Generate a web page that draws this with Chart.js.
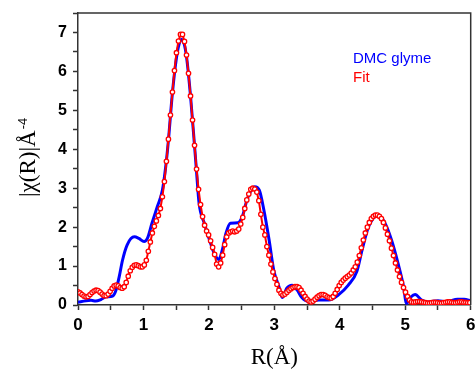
<!DOCTYPE html>
<html>
<head>
<meta charset="utf-8">
<script src="https://cdn.jsdelivr.net/npm/chart.js@4/dist/chart.umd.min.js"></script>
<style>
  html, body { margin: 0; padding: 0; background: #fff; }
  #wrap { width: 476px; height: 369px; }
</style>
</head>
<body>
<div id="wrap"><canvas id="exafs" width="476" height="369"></canvas></div>
<script>
// Dados
const seriesNames = ['DMC glyme', 'Fit'];

// curva azul (experimental), pares R / valor
const expR = [0, 0.12, 0.2, 0.27, 0.35, 0.43, 0.53, 0.58, 0.63, 0.68, 0.75, 0.86, 0.93, 1.01, 1.06, 1.13, 1.21, 1.29, 1.34,
  1.38, 1.44, 1.5, 1.545, 1.58, 1.62, 1.66, 1.72, 1.78, 1.81, 1.85, 1.93, 2.01, 2.08, 2.15, 2.21, 2.26, 2.33, 2.44, 2.51,
  2.59, 2.7, 2.77, 2.84, 2.92, 2.99, 3.07, 3.12, 3.19, 3.27, 3.35, 3.42, 3.52, 3.68, 3.83, 3.98, 4.13, 4.26, 4.34, 4.44,
  4.59, 4.69, 4.79, 4.89, 4.97, 5.02, 5.09, 5.15, 5.25, 5.35, 5.5, 5.63, 5.8, 5.9, 6.0];
const expV = [0.07, 0.11, 0.12, 0.10, 0.14, 0.21, 0.23, 0.38, 0.73, 1.15, 1.54, 1.75, 1.71, 1.63, 1.71, 2.10, 2.52, 2.95, 3.55,
  4.2, 5.4, 6.3, 6.7, 6.82, 6.72, 6.35, 5.35, 4.1, 3.45, 2.61, 2.10, 1.67, 1.33, 1.17, 1.45, 1.84, 2.10, 2.11, 2.27,
  2.74, 3.04, 2.95, 2.44, 1.67, 0.90, 0.47, 0.19, 0.43, 0.51, 0.38, 0.19, 0.09, 0.13, 0.13, 0.26, 0.51, 0.86, 1.41, 2.01,
  2.31, 2.10, 1.67, 1.07, 0.51, 0.04, 0.21, 0.27, 0.13, 0.08, 0.11, 0.08, 0.15, 0.15, 0.11];

// ajuste (pontos vermelhos), grade uniforme em R
const fitStep = 0.0307;
const fitV = [
  0.34, 0.31, 0.27, 0.23, 0.21, 0.22, 0.27, 0.32, 0.36, 0.38,
  0.37, 0.33, 0.28, 0.24, 0.24, 0.28, 0.35, 0.43, 0.49, 0.51,
  0.49, 0.45, 0.43, 0.47, 0.58, 0.74, 0.88, 0.97, 1.02, 1.03,
  1.01, 0.98, 0.98, 1.03, 1.15, 1.38, 1.62, 1.85, 2.02, 2.16,
  2.30, 2.48, 2.78, 3.17, 3.69, 4.26, 4.88, 5.47, 6.02, 6.48,
  6.78, 6.95, 6.95, 6.77, 6.42, 5.95, 5.37, 4.75, 4.10, 3.49,
  2.97, 2.58, 2.27, 2.05, 1.90, 1.80, 1.65, 1.48, 1.30, 1.05,
  0.98, 1.08, 1.28, 1.55, 1.75, 1.85, 1.88, 1.90, 1.88, 1.90,
  1.95, 2.08, 2.25, 2.48, 2.70, 2.85, 2.97, 3.00, 2.98, 2.90,
  2.68, 2.33, 2.00, 1.80, 1.50, 1.28, 1.05, 0.85, 0.68, 0.53,
  0.38, 0.30, 0.26, 0.28, 0.33, 0.38, 0.42, 0.45, 0.47, 0.47,
  0.45, 0.38, 0.30, 0.22, 0.15, 0.10, 0.08, 0.10, 0.15, 0.20,
  0.24, 0.27, 0.27, 0.25, 0.21, 0.19, 0.18, 0.22, 0.30, 0.40,
  0.50, 0.58, 0.64, 0.69, 0.73, 0.77, 0.82, 0.90, 0.98, 1.10,
  1.27, 1.47, 1.67, 1.85, 2.00, 2.12, 2.22, 2.28, 2.31, 2.31,
  2.28, 2.22, 2.12, 1.98, 1.82, 1.65, 1.46, 1.27, 1.08, 0.90,
  0.73, 0.58, 0.45, 0.33, 0.22, 0.13, 0.08, 0.07, 0.08, 0.09,
  0.09, 0.08, 0.07, 0.06, 0.05, 0.05, 0.06, 0.07, 0.07, 0.06,
  0.05, 0.05, 0.06, 0.07, 0.08, 0.08, 0.07, 0.06, 0.06, 0.07,
  0.08, 0.08, 0.07, 0.07, 0.06, 0.06
];

const xTicks = [0, 1, 2, 3, 4, 5, 6];
const yTicks = [0, 1, 2, 3, 4, 5, 6, 7];

const axisColor = '#333';

// moldura superior/direita, título do eixo y e legenda em texto
const extras = {
  id: 'extras',
  afterDraw(chart) {
    const { ctx, chartArea: a } = chart;
    ctx.save();
    ctx.strokeStyle = axisColor;
    ctx.lineWidth = 1.5;
    ctx.beginPath();
    ctx.moveTo(a.left, a.top);
    ctx.lineTo(a.right, a.top);
    ctx.lineTo(a.right, a.bottom);
    ctx.stroke();

    // título do eixo y com expoente
    ctx.translate(35, 197);
    ctx.rotate(-Math.PI / 2);
    ctx.fillStyle = '#000';
    ctx.textBaseline = 'alphabetic';
    ctx.textAlign = 'left';
    ctx.font = '23px "Liberation Serif", "Times New Roman", serif';
    const main = '|\u03C7(R)|\u00C5';
    ctx.fillText(main, 0, 0);
    const w = ctx.measureText(main).width;
    ctx.font = '13px "Liberation Sans", Arial, sans-serif';
    ctx.fillText('-4', w + 1, -8);
    ctx.restore();

    // legenda só com texto colorido
    ctx.save();
    ctx.font = '15px "Liberation Sans", Arial, sans-serif';
    ctx.textBaseline = 'alphabetic';
    ctx.fillStyle = chart.data.datasets[1].borderColor;
    ctx.fillText(chart.data.datasets[1].label, 353, 63);
    ctx.fillStyle = chart.data.datasets[0].borderColor;
    ctx.fillText(chart.data.datasets[0].label, 353, 82);
    ctx.restore();
  }
};

const ctx = document.getElementById('exafs').getContext('2d');

new Chart(ctx, {
  type: 'scatter',
  data: {
    datasets: [
      {
        label: seriesNames[1],
        data: fitV.map((v, i) => ({ x: i * fitStep, y: v })),
        showLine: true,
        borderColor: '#ff0000',
        borderWidth: 2,
        pointRadius: 2.2,
        pointBackgroundColor: '#ffffff',
        pointBorderColor: '#ff0000',
        pointBorderWidth: 1.3,
        tension: 0
      },
      {
        label: seriesNames[0],
        data: expR.map((r, i) => ({ x: r, y: expV[i] })),
        showLine: true,
        borderColor: '#0000ff',
        borderWidth: 3,
        pointRadius: 0,
        cubicInterpolationMode: 'monotone'
      }
    ]
  },
  options: {
    responsive: false,
    animation: false,
    layout: { padding: { left: 0, right: 3, top: 13, bottom: 0 } },
    plugins: {
      legend: { display: false },
      tooltip: { enabled: false }
    },
    scales: {
      x: {
        type: 'linear',
        min: 0,
        max: 6,
        afterFit(scale) {
          scale.height = 64;
          scale.paddingLeft = 0;
          scale.paddingRight = 0;
        },
        border: { color: axisColor, width: 1.5 },
        grid: { drawOnChartArea: false, tickLength: 5, color: axisColor, tickWidth: 1.5 },
        ticks: {
          stepSize: 0.5,
          autoSkip: false,
          maxRotation: 0,
          padding: 5,
          color: '#000',
          font: { family: '"Liberation Sans", Arial, sans-serif', size: 17, weight: 'bold' },
          callback: v => (xTicks.includes(v) ? String(v) : '')
        },
        title: {
          display: true,
          text: 'R(\u00C5)',
          color: '#000',
          font: { family: '"Liberation Serif", "Times New Roman", serif', size: 23, lineHeight: 1 },
          padding: { top: 0, bottom: 0 }
        }
      },
      y: {
        type: 'linear',
        min: 0,
        max: 7.5,
        afterFit(scale) {
          scale.width = 78;
          scale.paddingTop = 0;
          scale.paddingBottom = 0;
        },
        border: { color: axisColor, width: 1.5 },
        grid: { drawOnChartArea: false, tickLength: 5, color: axisColor, tickWidth: 1.5 },
        ticks: {
          stepSize: 0.5,
          autoSkip: false,
          padding: 6,
          color: '#000',
          font: { family: '"Liberation Sans", Arial, sans-serif', size: 16, weight: 'bold' },
          callback: v => (yTicks.includes(v) ? String(v) : '')
        }
      }
    }
  },
  plugins: [extras]
});
</script>
</body>
</html>
